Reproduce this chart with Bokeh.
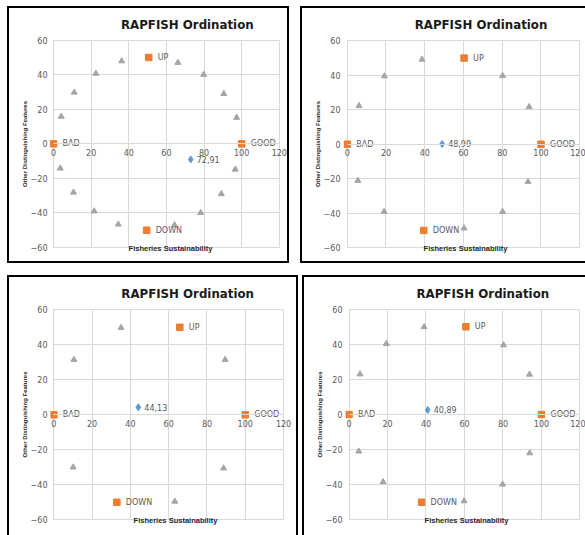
from bokeh.plotting import figure
from bokeh.layouts import row, column
from bokeh.models import Title, FixedTicker
from bokeh.embed import file_html
from bokeh.resources import INLINE
from bokeh.core.properties import value

# ---------------- data ----------------
x_ticks = [0, 20, 40, 60, 80, 100, 120]
y_ticks = [-60, -40, -20, 0, 20, 40, 60]
anchor_names = ["BAD", "GOOD", "UP", "DOWN"]

# panel 1
p1_tri_x = [4.1, 11.0, 22.5, 36.2, 66.1, 79.8, 90.5, 97.3, 96.6, 89.2, 78.2, 64.3, 34.4, 21.6, 10.6, 3.6]
p1_tri_y = [15.8, 29.8, 40.7, 47.9, 47.0, 40.1, 29.0, 15.2, -14.8, -29.0, -39.9, -47.0, -46.6, -39.0, -28.1, -14.2]
p1_anchor_x = [0, 100, 50.6, 49.5]
p1_anchor_y = [0, 0, 50, -50]
p1_point_x = [72.91]
p1_point_y = [-9.0]
p1_point_label = ["72,91"]

# panel 2
p2_tri_x = [6.1, 19.2, 38.6, 80.2, 93.9, 93.3, 80.2, 60.3, 19.0, 5.5]
p2_tri_y = [22.3, 39.5, 49.2, 39.7, 21.7, -21.7, -39.1, -48.7, -39.1, -21.1]
p2_anchor_x = [0, 100, 60.3, 39.5]
p2_anchor_y = [0, 0, 50, -50]
p2_point_x = [48.99]
p2_point_y = [0.2]
p2_point_label = ["48,99"]

# panel 3
p3_tri_x = [10.5, 35.1, 89.5, 88.7, 63.2, 10.1]
p3_tri_y = [31.5, 49.8, 31.5, -30.5, -49.5, -30.0]
p3_anchor_x = [0, 100, 65.8, 32.9]
p3_anchor_y = [0, 0, 50, -50]
p3_point_x = [44.13]
p3_point_y = [4.3]
p3_point_label = ["44,13"]

# panel 4
p4_tri_x = [5.7, 19.4, 39.0, 80.3, 93.8, 93.9, 79.8, 59.8, 17.7, 5.1]
p4_tri_y = [23.0, 40.3, 49.9, 39.6, 22.8, -22.0, -39.8, -49.3, -38.4, -21.0]
p4_anchor_x = [0, 100, 60.7, 37.7]
p4_anchor_y = [0, 0, 50, -50]
p4_point_x = [40.89]
p4_point_y = [2.6]
p4_point_label = ["40,89"]

# ---------------- layout geometry (page pixels) ----------------
geoms = [
    dict(ol=7, ot=6, W=282, H=257, sides="ltrb", x0=53.0, x120=275.0, y60=37.7, ym60=243.0),
    dict(ol=300, ot=6, W=285, H=257, sides="ltb", x0=346.7, x120=577.3, y60=38.3, ym60=243.2),
    dict(ol=7, ot=275, W=291, H=260, sides="ltr", x0=53.3, x120=279.3, y60=308.3, ym60=517.3),
    dict(ol=302, ot=275, W=283, H=260, sides="lt", x0=348.5, x120=577.5, y60=307.7, ym60=517.3),
]

GRID = "#d9d9d9"
LABEL = "#595959"
FONT = "DejaVu Sans"
BW = 2


def make_panel(g, tx, ty, ax, ay, px, py, plab):
    s = g["sides"]
    cl = g["ol"] + (BW if "l" in s else 0)
    ct = g["ot"] + (BW if "t" in s else 0)
    cw = g["W"] - BW * (("l" in s) + ("r" in s))
    ch = g["H"] - BW * (("t" in s) + ("b" in s))
    ppx = (g["x120"] - g["x0"]) / 120.0
    ppy = (g["ym60"] - g["y60"]) / 120.0
    L = round(g["x0"] - 2.0 * ppx)
    R = cl + cw
    T = round(g["y60"] - 0.6 * ppy)
    B = round(g["ym60"] + 0.6 * ppy)
    mbl = L - cl
    mbt = T - ct
    mbb = ct + ch - B
    xs = -(g["x0"] - L) / ppx
    xe = 120 + (R - g["x120"]) / ppx
    ye = 60 + (g["y60"] - T) / ppy
    ys = -60 - (B - g["ym60"]) / ppy

    css = {}
    for side, name in (("l", "left"), ("t", "top"), ("r", "right"), ("b", "bottom")):
        css["border-" + name] = ("%dpx solid black" % BW) if side in s else "none"

    p = figure(width=g["W"], height=g["H"], x_range=(xs, xe), y_range=(ys, ye),
               output_backend="svg", toolbar_location=None,
               min_border_left=mbl, min_border_right=0,
               min_border_top=mbt, min_border_bottom=mbb, styles=css)
    p.outline_line_color = None
    p.background_fill_color = "white"
    p.border_fill_color = "white"

    p.xgrid.ticker = FixedTicker(ticks=x_ticks)
    p.ygrid.ticker = FixedTicker(ticks=y_ticks)
    p.grid.grid_line_color = GRID
    p.grid.grid_line_width = 1
    try:
        p.ygrid.cross_bounds = (x_ticks[0], x_ticks[-1])
        p.xgrid.cross_bounds = (y_ticks[0], y_ticks[-1])
    except Exception:
        p.xgrid.visible = False
        p.ygrid.visible = False
        p.segment(x0=[x_ticks[0]] * len(y_ticks), y0=y_ticks,
                  x1=[x_ticks[-1]] * len(y_ticks), y1=y_ticks, line_color=GRID)
        p.segment(x0=x_ticks, y0=[y_ticks[0]] * len(x_ticks),
                  x1=x_ticks, y1=[y_ticks[-1]] * len(x_ticks), line_color=GRID)

    for axis, ticks in ((p.xaxis[0], x_ticks), (p.yaxis[0], y_ticks)):
        axis.ticker = FixedTicker(ticks=ticks)
        axis.major_tick_line_color = None
        axis.minor_tick_line_color = None
        axis.major_tick_out = 0
        axis.major_tick_in = 0
        axis.major_label_text_font = FONT
        axis.major_label_text_font_size = "8px"
        axis.major_label_text_color = LABEL

    xa = p.xaxis[0]
    xa.fixed_location = 0
    xa.bounds = (x_ticks[0], x_ticks[-1])
    xa.axis_line_color = GRID
    xa.major_label_standoff = 5

    ya = p.yaxis[0]
    ya.axis_line_color = None
    ya.major_label_standoff = max(0, round(L - (g["x0"] - 6.5)))
    ya.axis_label = "Other Distinguishing Features"
    ya.axis_label_text_font = "Liberation Sans"
    ya.axis_label_text_font_size = "6px"
    ya.axis_label_text_font_style = "bold"
    ya.axis_label_text_color = "#262626"
    ya.axis_label_standoff = 0

    title = Title(text="RAPFISH Ordination", align="left",
                  offset=g["x0"] + 67.5 - L, vertical_align="bottom", standoff=15,
                  text_font="DejaVu Sans", text_font_size="11.8px",
                  text_font_style="bold", text_color="#1a1a1a")
    p.add_layout(title, "above")

    xlab = Title(text="Fisheries Sustainability", align="center",
                 vertical_align="top", standoff=-10,
                 text_font="Liberation Sans", text_font_size="7.5px",
                 text_font_style="bold", text_color="#262626")
    p.add_layout(xlab, "below")

    p.scatter(tx, ty, marker="triangle", size=6, color="#A5A5A5")
    p.scatter(ax, ay, marker="square", size=6.5, color="#ED7D31")
    p.text(ax, ay, text=anchor_names, x_offset=9, text_baseline="middle",
           text_font=value(FONT), text_font_size="8px", text_color=LABEL)
    p.scatter(px, py, marker="diamond", size=7, color="#5B9BD5")
    p.text(px, py, text=plab, x_offset=6, text_baseline="middle",
           text_font=value(FONT), text_font_size="8px", text_color=LABEL)
    return p


p1 = make_panel(geoms[0], p1_tri_x, p1_tri_y, p1_anchor_x, p1_anchor_y, p1_point_x, p1_point_y, p1_point_label)
p2 = make_panel(geoms[1], p2_tri_x, p2_tri_y, p2_anchor_x, p2_anchor_y, p2_point_x, p2_point_y, p2_point_label)
p3 = make_panel(geoms[2], p3_tri_x, p3_tri_y, p3_anchor_x, p3_anchor_y, p3_point_x, p3_point_y, p3_point_label)
p4 = make_panel(geoms[3], p4_tri_x, p4_tri_y, p4_anchor_x, p4_anchor_y, p4_point_x, p4_point_y, p4_point_label)

gap_top = geoms[1]["ol"] - (geoms[0]["ol"] + geoms[0]["W"])
gap_bot = geoms[3]["ol"] - (geoms[2]["ol"] + geoms[2]["W"])
row_gap = geoms[2]["ot"] - (geoms[0]["ot"] + geoms[0]["H"])
layout = column(row(p1, p2, spacing=gap_top), row(p3, p4, spacing=gap_bot),
                spacing=row_gap, margin=(geoms[0]["ot"], 0, 0, geoms[0]["ol"]))

open("out.html", "w").write(file_html(layout, INLINE))
